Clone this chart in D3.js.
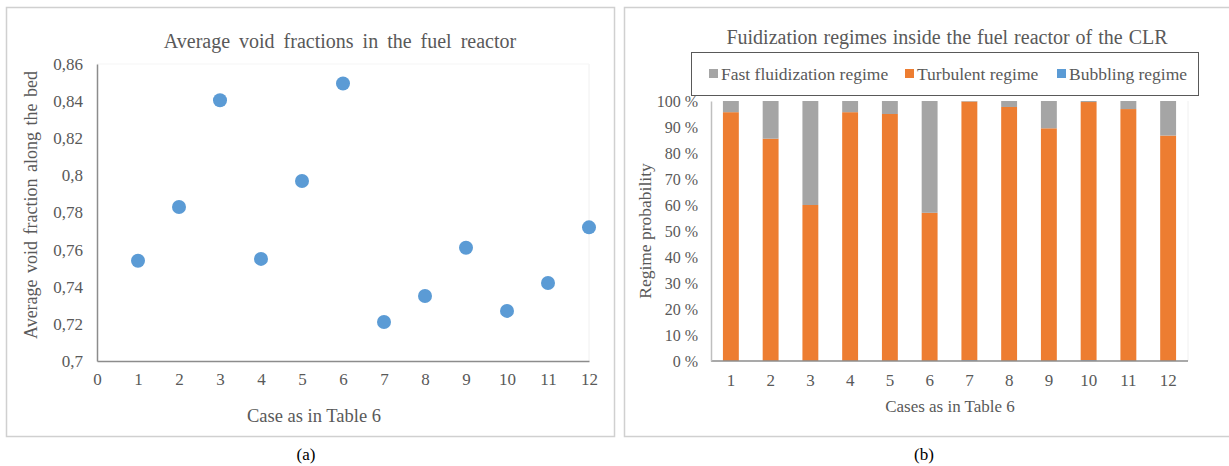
<!DOCTYPE html>
<html>
<head>
<meta charset="utf-8">
<script src="https://cdn.jsdelivr.net/npm/d3@7"></script>
<style>
  html, body { margin: 0; padding: 0; background: #fff; }
  svg { display: block; }
  text { font-family: "Liberation Serif", "Times New Roman", serif; }
</style>
</head>
<body>
<svg id="fig" width="1229" height="466"></svg>
<script>
// ---- data ----
const cases = [1, 2, 3, 4, 5, 6, 7, 8, 9, 10, 11, 12];
const voidFraction = [0.754, 0.783, 0.8405, 0.755, 0.797, 0.8495, 0.721, 0.735, 0.761, 0.727, 0.742, 0.772];
const voidTicks = [0.7, 0.72, 0.74, 0.76, 0.78, 0.8, 0.82, 0.84, 0.86];
const caseTicks = [0, 1, 2, 3, 4, 5, 6, 7, 8, 9, 10, 11, 12];

const regimeNames = ["Fast fluidization regime", "Turbulent regime", "Bubbling regime"];
const bubbling = [0, 0, 0, 0, 0, 0, 0.3, 0, 0, 0.3, 0, 0];
const turbulent = [95.7, 85.5, 60, 95.7, 95, 57, 99.5, 97.7, 89.5, 99.3, 96.9, 86.7];
const fast = [4.3, 14.5, 40, 4.3, 5, 43, 0.2, 2.3, 10.5, 0.4, 3.1, 13.3];
const pctTicks = [0, 10, 20, 30, 40, 50, 60, 70, 80, 90, 100];

const colors = { fast: "#A5A5A5", turb: "#ED7D31", bub: "#5B9BD5" };
const textGrey = "#595959";
const axisGrey = "#8c8c8c";

const svg = d3.select("#fig");

// ---------- (a) scatter ----------
const A = svg.append("g");
A.append("rect").attr("x", 6.5).attr("y", 7.5).attr("width", 608).attr("height", 429)
  .attr("fill", "#fff").attr("stroke", "#d0d0d0").attr("stroke-width", 1.5);

const xA = d3.scaleLinear().domain([0, 12]).range([97, 589]);
const yA = d3.scaleLinear().domain([0.7, 0.86]).range([361, 64]);

// faint plot-area edge
A.append("line").attr("x1", xA(12)).attr("x2", xA(12)).attr("y1", yA(0.86)).attr("y2", yA(0.7))
  .attr("stroke", "#f0f0f0");
A.append("line").attr("x1", xA(0)).attr("x2", xA(12)).attr("y1", yA(0.86)).attr("y2", yA(0.86))
  .attr("stroke", "#f5f5f5");

const axA = A.append("g").attr("transform", `translate(0,${yA(0.7)})`)
  .call(d3.axisBottom(xA).tickValues(caseTicks).tickSize(0).tickPadding(12).tickFormat(d3.format("d")));
const ayA = A.append("g").attr("transform", `translate(${xA(0)},0)`)
  .call(d3.axisLeft(yA).tickValues(voidTicks).tickSize(0).tickPadding(14)
    .tickFormat(d => String(+d.toFixed(2)).replace(".", ",")));
[axA, ayA].forEach(g => {
  g.select(".domain").attr("stroke", axisGrey).attr("stroke-width", 1.5);
  g.selectAll("text").attr("fill", textGrey).style("font-size", "17px");
});

A.selectAll("circle.pt").data(cases).join("circle").attr("class", "pt")
  .attr("cx", d => xA(d)).attr("cy", (d, i) => yA(voidFraction[i]))
  .attr("r", 7).attr("fill", colors.bub);

A.append("text").attr("x", 340).attr("y", 48).attr("text-anchor", "middle")
  .attr("fill", textGrey).style("font-size", "20px").style("word-spacing", "4px")
  .text("Average void fractions in the fuel reactor");
A.append("text").attr("x", 314).attr("y", 422).attr("text-anchor", "middle")
  .attr("fill", textGrey).style("font-size", "18.5px").text("Case as in Table 6");
A.append("text").attr("transform", "translate(37,205) rotate(-90)").attr("text-anchor", "middle")
  .attr("fill", textGrey).style("font-size", "18px").style("word-spacing", "2px")
  .text("Average void fraction along the bed");
A.append("text").attr("x", 306).attr("y", 460).attr("text-anchor", "middle")
  .attr("fill", "#000").style("font-size", "17px").text("(a)");

// ---------- (b) stacked bars ----------
const B = svg.append("g");
B.append("rect").attr("x", 624.5).attr("y", 7.5).attr("width", 610).attr("height", 429)
  .attr("fill", "#fff").attr("stroke", "#d0d0d0").attr("stroke-width", 1.5);

const xB = d3.scaleBand().domain(cases).range([711, 1188]).paddingInner(0.6).paddingOuter(0.3);
const yB = d3.scaleLinear().domain([0, 100]).range([361, 101]);

B.append("line").attr("x1", 1188).attr("x2", 1188).attr("y1", yB(100)).attr("y2", yB(0))
  .attr("stroke", "#f0f0f0");

const rows = cases.map((c, i) => ({ c, bub: bubbling[i], turb: turbulent[i], fast: fast[i] }));
const stack = d3.stack().keys(["bub", "turb", "fast"])(rows);
B.selectAll("g.layer").data(stack).join("g").attr("class", "layer")
  .attr("fill", d => colors[d.key])
  .selectAll("rect").data(d => d).join("rect")
  .attr("x", d => xB(d.data.c)).attr("width", xB.bandwidth())
  .attr("y", d => yB(d[1])).attr("height", d => yB(d[0]) - yB(d[1]));

const axB = B.append("g").attr("transform", `translate(0,${yB(0)})`)
  .call(d3.axisBottom(xB).tickSize(0).tickPadding(13));
const ayB = B.append("g").attr("transform", `translate(711,0)`)
  .call(d3.axisLeft(yB).tickValues(pctTicks).tickSize(0).tickPadding(13).tickFormat(d => d + " %"));
axB.select(".domain").attr("stroke", axisGrey).attr("stroke-width", 1.5).attr("d", `M711,0H1188`);
ayB.select(".domain").attr("stroke", "#bfbfbf").attr("stroke-width", 1.5);
[axB, ayB].forEach(g => g.selectAll("text").attr("fill", textGrey).style("font-size", "16px"));
axB.selectAll("text").style("font-size", "17px");

B.append("text").attr("x", 947).attr("y", 44).attr("text-anchor", "middle")
  .attr("fill", textGrey).style("font-size", "20px").style("word-spacing", "1px")
  .text("Fuidization regimes inside the fuel reactor of the CLR");
B.append("text").attr("x", 950).attr("y", 412).attr("text-anchor", "middle")
  .attr("fill", textGrey).style("font-size", "17px").text("Cases as in Table 6");
B.append("text").attr("transform", "translate(651,231) rotate(-90)").attr("text-anchor", "middle")
  .attr("fill", textGrey).style("font-size", "17.5px").text("Regime probability");
B.append("text").attr("x", 924).attr("y", 460).attr("text-anchor", "middle")
  .attr("fill", "#000").style("font-size", "17px").text("(b)");

// legend
const legend = B.append("g");
legend.append("rect").attr("x", 691.5).attr("y", 52.5).attr("width", 507).attr("height", 43)
  .attr("fill", "#fff").attr("stroke", "#595959").attr("stroke-width", 1);
const legItems = [
  { name: regimeNames[0], color: colors.fast, x: 709 },
  { name: regimeNames[1], color: colors.turb, x: 905 },
  { name: regimeNames[2], color: colors.bub, x: 1057 }
];
const li = legend.selectAll("g.item").data(legItems).join("g").attr("class", "item")
  .attr("transform", d => `translate(${d.x},74)`);
li.append("rect").attr("x", 0).attr("y", -5).attr("width", 9).attr("height", 9).attr("fill", d => d.color);
li.append("text").attr("x", 12).attr("y", 6).attr("fill", textGrey).style("font-size", "17.5px")
  .text(d => d.name);
</script>
</body>
</html>
